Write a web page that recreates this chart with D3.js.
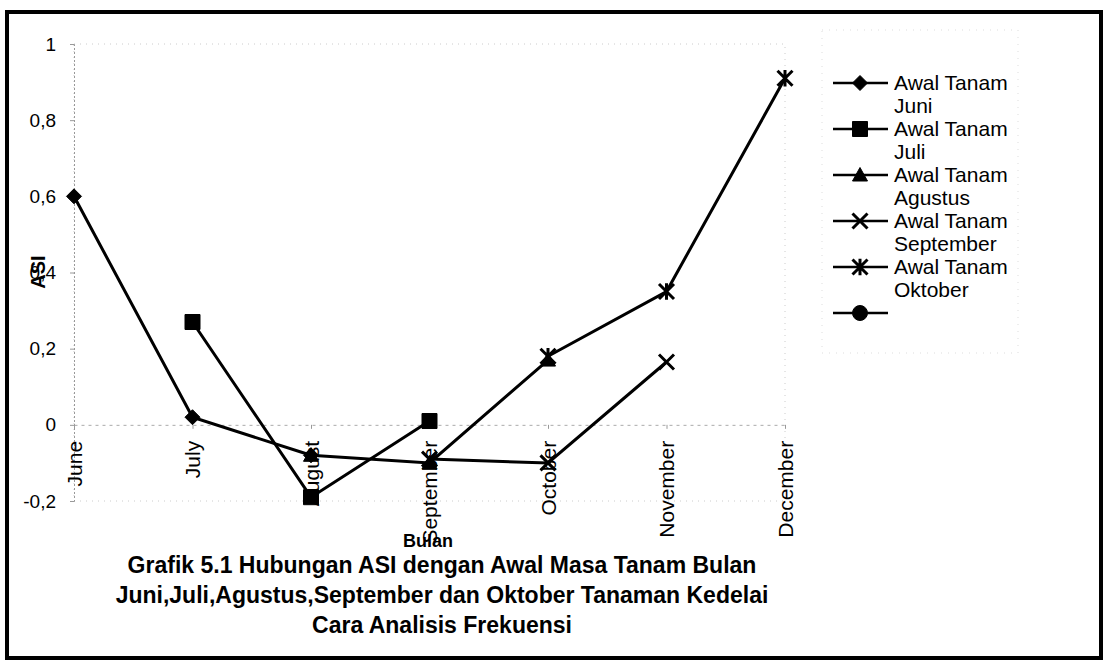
<!DOCTYPE html>
<html>
<head>
<meta charset="utf-8">
<script src="https://cdn.jsdelivr.net/npm/d3@7"></script>
<style>
  body { margin: 0; background: #fff; }
  svg { display: block; font-family: "Liberation Sans", Arial, sans-serif; }
</style>
</head>
<body>
<svg id="chart" width="1107" height="667"></svg>
<script>
// months on the x axis
var months = ['June', 'July', 'August', 'September', 'October', 'November', 'December'];

// ASI per planting start month (null = no value)
var juni      = [0.6, 0.02, -0.08, null, null, null, null];
var juli      = [null, 0.27, -0.19, 0.01, null, null, null];
var agustus   = [null, null, -0.08, -0.1, 0.17, null, null];
var september = [null, null, null, -0.09, -0.1, 0.165, null];
var oktober   = [null, null, null, null, 0.18, 0.35, 0.91];

var seriesNames = ['Awal Tanam Juni', 'Awal Tanam Juli', 'Awal Tanam Agustus',
                   'Awal Tanam September', 'Awal Tanam Oktober', ''];
var seriesShapes = ['diamond', 'square', 'triangle', 'x', 'star', 'circle'];
var seriesValues = [juni, juli, agustus, september, oktober, []];

var yTicks = [-0.2, 0, 0.2, 0.4, 0.6, 0.8, 1];

var titleLines = [
  'Grafik 5.1 Hubungan ASI dengan Awal Masa Tanam Bulan',
  'Juni,Juli,Agustus,September dan Oktober Tanaman Kedelai',
  'Cara Analisis Frekuensi'
];

var svg = d3.select('#chart');

// outer frame
svg.append('rect')
  .attr('x', 7).attr('y', 12)
  .attr('width', 1094).attr('height', 646)
  .attr('fill', 'none')
  .attr('stroke', '#000')
  .attr('stroke-width', 4);

var x = d3.scalePoint().domain(months).range([74, 785]).padding(0);
var y = d3.scaleLinear().domain([-0.2, 1]).range([501, 44]);

// plot area border (faint, dotted like the scan)
svg.append('rect')
  .attr('x', 74).attr('y', y(1))
  .attr('width', 785 - 74).attr('height', y(-0.2) - y(1))
  .attr('fill', 'none')
  .attr('stroke', '#ccc')
  .attr('stroke-width', 1)
  .attr('stroke-dasharray', '1,5');

// y axis
var yAxis = d3.axisLeft(y)
  .tickValues(yTicks)
  .tickSize(4)
  .tickPadding(14)
  .tickFormat(function(d) { return String(+d.toFixed(1)).replace('.', ','); });

var gy = svg.append('g')
  .attr('transform', 'translate(74,0)')
  .call(yAxis);
gy.select('.domain').attr('stroke', '#999').attr('stroke-dasharray', '2,2');
gy.selectAll('.tick line').attr('stroke', '#999');
gy.selectAll('.tick text')
  .attr('fill', '#000')
  .style('font-size', '19px')
  .style('font-family', '"Liberation Sans", Arial, sans-serif');

// x axis at 0
var xAxis = d3.axisBottom(x).tickSize(4).tickSizeOuter(0);
var gx = svg.append('g')
  .attr('transform', 'translate(0,' + y(0) + ')')
  .call(xAxis);
gx.select('.domain').attr('stroke', '#aaa').attr('stroke-dasharray', '3,4');
gx.selectAll('.tick line').attr('stroke', '#999');
gx.selectAll('.tick text')
  .attr('fill', '#000')
  .attr('transform', 'rotate(-90)')
  .attr('text-anchor', 'end')
  .attr('x', -16)
  .attr('y', 0)
  .attr('dy', '0.35em')
  .style('font-size', '21px')
  .style('font-family', '"Liberation Sans", Arial, sans-serif');

// axis titles
svg.append('text')
  .attr('transform', 'translate(45,272) rotate(-90)')
  .attr('text-anchor', 'middle')
  .attr('font-weight', 'bold')
  .style('font-size', '20px')
  .text('ASI');

svg.append('text')
  .attr('x', 428).attr('y', 547)
  .attr('text-anchor', 'middle')
  .attr('font-weight', 'bold')
  .style('font-size', '18px')
  .text('Bulan');

// marker path generator
function markerPath(shape, s) {
  switch (shape) {
    case 'diamond':  return 'M0,' + (-s) + 'L' + s + ',0L0,' + s + 'L' + (-s) + ',0Z';
    case 'square':   return 'M' + (-s) + ',' + (-s) + 'h' + 2 * s + 'v' + 2 * s + 'h' + (-2 * s) + 'Z';
    case 'triangle': return 'M0,' + (-s) + 'L' + s + ',' + s * 0.8 + 'L' + (-s) + ',' + s * 0.8 + 'Z';
    case 'x':        return 'M' + (-s) + ',' + (-s) + 'L' + s + ',' + s + 'M' + s + ',' + (-s) + 'L' + (-s) + ',' + s;
    case 'star':     return 'M' + (-s) + ',' + (-s) + 'L' + s + ',' + s + 'M' + s + ',' + (-s) + 'L' + (-s) + ',' + s +
                            'M0,' + (-s * 1.1) + 'L0,' + s * 1.1;
    case 'circle':   return d3.symbol(d3.symbolCircle, Math.PI * s * s)();
  }
}

function drawMarker(g, shape, s) {
  var open = shape === 'x' || shape === 'star';
  g.append('path')
    .attr('d', markerPath(shape, s))
    .attr('fill', open ? 'none' : '#000')
    .attr('stroke', '#000')
    .attr('stroke-width', open ? 3 : 1);
}

var line = d3.line()
  .defined(function(d) { return d.v != null; })
  .x(function(d) { return x(d.m); })
  .y(function(d) { return y(d.v); });

seriesValues.forEach(function(vals, i) {
  var pts = months.map(function(m, j) { return { m: m, v: vals[j] == null ? null : vals[j] }; });
  var g = svg.append('g').attr('class', 'series');

  g.append('path')
    .datum(pts)
    .attr('d', line)
    .attr('fill', 'none')
    .attr('stroke', '#000')
    .attr('stroke-width', 3);

  pts.filter(function(d) { return d.v != null; }).forEach(function(d) {
    var mg = g.append('g').attr('transform', 'translate(' + x(d.m) + ',' + y(d.v) + ')');
    drawMarker(mg, seriesShapes[i], 7.5);
  });
});

// legend
var legend = svg.append('g').attr('transform', 'translate(822,30)');
legend.append('rect')
  .attr('width', 196).attr('height', 323)
  .attr('fill', 'none')
  .attr('stroke', '#ddd')
  .attr('stroke-dasharray', '1,6');

seriesNames.forEach(function(name, i) {
  var cy = 83 + i * 46 - 30;
  var item = legend.append('g').attr('transform', 'translate(0,' + cy + ')');
  item.append('line')
    .attr('x1', 11).attr('x2', 66)
    .attr('stroke', '#000')
    .attr('stroke-width', 2.5);
  var mg = item.append('g').attr('transform', 'translate(38,0)');
  drawMarker(mg, seriesShapes[i], 7.5);

  if (name) {
    var words = name.split(' ');
    var t = item.append('text')
      .attr('x', 72)
      .attr('y', 7)
      .style('font-size', '21px');
    t.append('tspan').attr('x', 72).text(words[0] + ' ' + words[1]);
    t.append('tspan').attr('x', 72).attr('dy', 23).text(words[2]);
  }
});

// chart title
var title = svg.append('text')
  .attr('text-anchor', 'middle')
  .attr('font-weight', 'bold')
  .style('font-size', '23px');
titleLines.forEach(function(s, i) {
  title.append('tspan')
    .attr('x', 442)
    .attr('y', 573 + i * 30)
    .text(s);
});
</script>
</body>
</html>
